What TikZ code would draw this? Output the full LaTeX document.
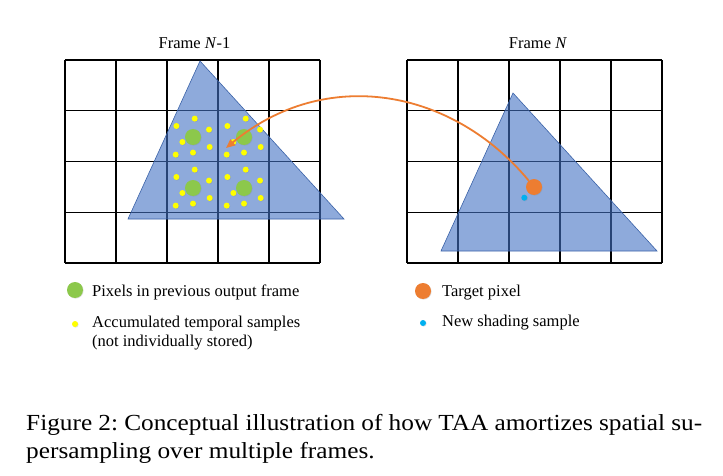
\documentclass[tikz,border=0pt]{standalone}
\usepackage{fontspec}
\setmainfont{Liberation Serif}
\newfontfamily\capfont[FakeStretch=1.1]{Liberation Serif}
\usetikzlibrary{arrows.meta,shadows}
\definecolor{triblue}{HTML}{4472C4}
\definecolor{triedge}{HTML}{3A62A8}
\definecolor{pixgreen}{HTML}{8CC84B}
\definecolor{sampyellow}{HTML}{FFFF00}
\definecolor{targorange}{HTML}{ED7D31}
\definecolor{newblue}{HTML}{00B0F0}
\tikzset{
  gridline/.style={line width=1.2pt, black},
  tri/.style={fill=triblue, fill opacity=0.6, draw=triedge, line width=0.6pt},
  softshadow/.style={drop shadow={opacity=0.25, shadow xshift=0.6pt, shadow yshift=-0.6pt}},
  gpix/.style={circle, fill=pixgreen, minimum size=16pt, inner sep=0pt, softshadow},
  ysamp/.style={circle, fill=sampyellow, minimum size=6pt, inner sep=0pt, softshadow},
  opix/.style={circle, fill=targorange, minimum size=16pt, inner sep=0pt, softshadow},
  bsamp/.style={circle, fill=newblue, minimum size=6pt, inner sep=0pt, softshadow},
  title/.style={font=\fontsize{16.5}{19}\selectfont, inner sep=0pt, anchor=base},
  legtext/.style={font=\fontsize{16.5}{19}\selectfont, inner sep=0pt, anchor=base west, align=left},
  captext/.style={font=\capfont\fontsize{23}{28}\selectfont\frenchspacing, inner sep=0pt, anchor=base west},
  tarrow/.style={draw=targorange, line width=1.8pt, -{Triangle[length=9pt,width=7.5pt]}},
}
\begin{document}
\begin{tikzpicture}[x=1pt,y=-1pt]
\useasboundingbox (0,0) rectangle (723,476);
\fill[white] (0,0) rectangle (723,476);

% titles
\node[title] (t1) at (194.5,49) {Frame \textit{N}-1};
\node[title] (t2) at (538,49) {Frame \textit{N}};

% grids
\foreach \x in {65,116,167,218,269,320} \draw[gridline] (\x,60) -- (\x,263);
\foreach \y in {60,110.75,161.5,212.25,263} \draw[gridline] (65,\y) -- (320,\y);
\foreach \x in {407,458,509,560,611,662} \draw[gridline] (\x,60) -- (\x,263);
\foreach \y in {60,110.75,161.5,212.25,263} \draw[gridline] (407,\y) -- (662,\y);

% triangles
\draw[tri] (200,61) -- (344,219) -- (128,219) -- cycle;
\draw[tri] (513,93) -- (657,251) -- (441,251) -- cycle;

% green pixels and yellow samples
\foreach \cx/\cy/\n in {193/137/a,244/137/b,193/188/c,244/188/d}{
  \node[gpix] (g\n) at (\cx,\cy) {};
  \foreach \dx/\dy/\k in {-16.6/-11/1,1.7/-18.4/2,16/-7.4/3,-10.6/5/4,16.7/10/5,0/15.6/6,-17.3/17.6/7}{
    \node[ysamp] (y\n\k) at (\cx+\dx,\cy+\dy) {};
  }
}

% target pixel and new sample
\node[bsamp] (bs) at (524.3,197.7) {};
\node[opix] (op) at (534,187) {};

% reprojection arrow
\coordinate (tip) at (226,148);
\draw[tarrow] (op) .. controls (452,88) and (325,66) .. (tip);

% legend
\node[gpix] (lg) at (75,290) {};
\node[legtext] (lgt) at (92,296) {Pixels in previous output frame};
\node[ysamp] (ly) at (75,324) {};
\node[legtext] (lyt) at (92,327) {Accumulated temporal samples};
\node[legtext] (lyt2) at (92,346) {(not individually stored)};
\node[opix] (lo) at (423,291) {};
\node[legtext] (lot) at (442,296) {Target pixel};
\node[bsamp] (lb) at (423,323) {};
\node[legtext] (lbt) at (442,326) {New shading sample};

% caption
\node[captext] (cap1) at (26,430) {\hbox to 676pt{Figure 2: Conceptual illustration of how TAA amortizes spatial su-}};
\node[captext] (cap2) at (26,458) {persampling over multiple frames.};
\end{tikzpicture}
\end{document}
